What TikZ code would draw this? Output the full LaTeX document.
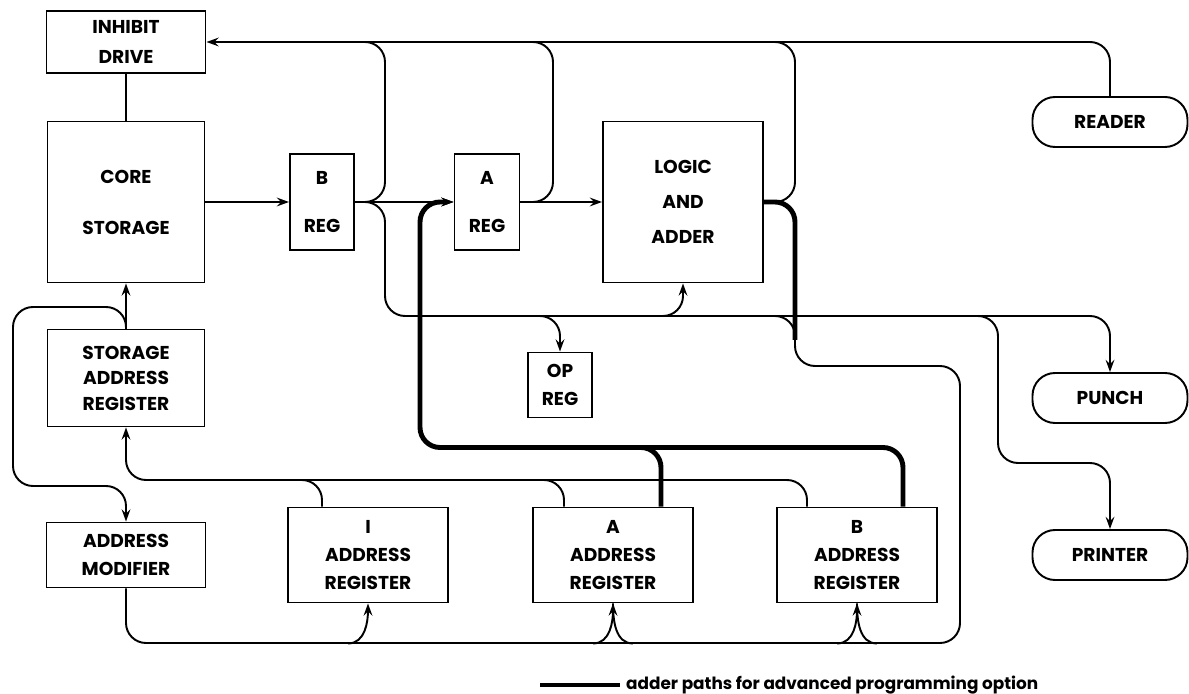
\documentclass[tikz,border=0pt]{standalone}
\usepackage{fontspec}
\setmainfont{Poppins}
\usetikzlibrary{arrows.meta, calc}

\begin{document}
\begin{tikzpicture}[
    x=0.2mm, y=-0.2mm,
    font=\fontsize{10.6}{16}\selectfont\bfseries,
    >={Stealth[length=7pt, width=5pt, inset=2.5pt]},
    unit/.style={draw, line width=1.1pt, inner sep=0pt, align=center},
    regbox/.style={unit, minimum width=32mm, minimum height=19mm},
    pill/.style={unit, rounded corners=4.5mm, minimum width=31mm, minimum height=10mm},
    wire/.style={line width=1.1pt, rounded corners=4mm},
    arrow/.style={wire, ->},
    adder/.style={line width=2.8pt, rounded corners=4mm}
]
\useasboundingbox (0,0) rectangle (1189,694);

% left column
\node[unit, minimum width=31.8mm, minimum height=12.4mm] (inhibit) at (126,42) {INHIBIT\\[1.5pt]DRIVE};
\node[unit, minimum width=31.4mm, minimum height=32.2mm] (core) at (126,202) {CORE\\[13pt]STORAGE};
\node[unit, minimum width=31.4mm, minimum height=19.4mm] (sar) at (126,378) {STORAGE\\[-1.5pt]ADDRESS\\[-1.5pt]REGISTER};
\node[unit, minimum width=31.8mm, minimum height=13mm] (amod) at (126,555) {ADDRESS\\MODIFIER};

% data registers and adder
\node[unit, minimum width=12.8mm, minimum height=19.2mm] (breg) at (322,202) {B\\[11pt]REG};
\node[unit, minimum width=13mm, minimum height=19.2mm] (areg) at (487,202) {A\\[11pt]REG};
\node[unit, minimum width=32mm, minimum height=32.2mm] (logic) at (683,202) {LOGIC\\[4pt]AND\\[4pt]ADDER};
\node[unit, minimum width=12.8mm, minimum height=13mm] (opreg) at (560,385) {OP\\REG};

% address registers
\node[regbox] (iar) at (368,555) {I\\ADDRESS\\REGISTER};
\node[regbox] (aar) at (613,555) {A\\ADDRESS\\REGISTER};
\node[regbox] (bar) at (857,555) {B\\ADDRESS\\REGISTER};

% input / output units
\node[pill] (reader) at (1110,122) {READER};
\node[pill] (punch) at (1110,398) {PUNCH};
\node[pill] (printer) at (1110,555) {PRINTER};

% bus points
\coordinate (bup) at (385,42);
\coordinate (aup) at (553,42);
\coordinate (lup) at (795,42);
\coordinate (lowbus) at (385,316);
\coordinate (opin) at (510,316);
\coordinate (login) at (640,316);
\coordinate (dropin) at (750,316);
\coordinate (prin) at (950,316);
\coordinate (drop) at (795,340);
\coordinate (sarbus) at (126,480);
\coordinate (adderbus) at (420,447.5);

% main data flow
\draw[wire] (inhibit.south) -- (core.north);
\draw[arrow] (core.east) -- (breg.west);
\draw[arrow] (breg.east) -- (areg.west);
\draw[arrow] (areg.east) -- (logic.west);
\draw[arrow] (sar.north) -- (core.south);

% top bus to inhibit drive
\draw[arrow] (reader.north) |- (inhibit.east);
\draw[wire] (breg.east) -| (bup) -- ++(-40,0);
\draw[wire] (areg.east) -| (aup) -- ++(-40,0);
\draw[wire] (logic.east) -| (lup) -- ++(-40,0);

% lower bus
\draw[arrow] (breg.east) -| (lowbus) -| (punch.north);
\draw[arrow] (opin) -| (opreg.north);
\draw[arrow] (login) -| (logic.south);
\draw[arrow] (prin) -| (998,463) -| (printer.north);
\draw[wire] (dropin) -| (795,366) -| (960,643) -| (amod.south);

% address bus into the registers
\draw[arrow] ($(iar.south)+(-20,40)$) to[out=0, in=-90] (iar.south);
\draw[arrow] ($(aar.south)+(-20,40)$) to[out=0, in=-90] (aar.south);
\draw[wire] ($(aar.south)+(20,40)$) to[out=180, in=-90] (aar.south);
\draw[arrow] ($(bar.south)+(-20,40)$) to[out=0, in=-90] (bar.south);
\draw[wire] ($(bar.south)+(20,40)$) to[out=180, in=-90] (bar.south);

% registers back to storage address register
\draw[arrow] ($(iar.north)+(-46,0)$) |- (sarbus) -- (sar.south);
\draw[wire] ($(aar.north)+(-49,0)$) |- (sarbus -| iar.west);
\draw[wire] ($(bar.north)+(-50,0)$) |- (sarbus -| iar.west);
\draw[arrow] (sar.north) |- (13,307) |- (60,486) -| (amod.north);

% adder paths
\draw[adder, ->] ($(bar.north)+(46,0)$) |- (adderbus) |- (areg.west);
\draw[adder] ($(aar.north)+(48,0)$) |- ($(adderbus)+(200,0)$);
\draw[adder] (logic.east) -| (drop);

% legend
\node[anchor=west, font=\fontsize{9.6}{12}\selectfont\bfseries] (legend) at (620,685) {adder paths for advanced programming option};
\draw[adder] ($(legend.west)+(-80,0)$) -- (legend.west);

\end{tikzpicture}
\end{document}
